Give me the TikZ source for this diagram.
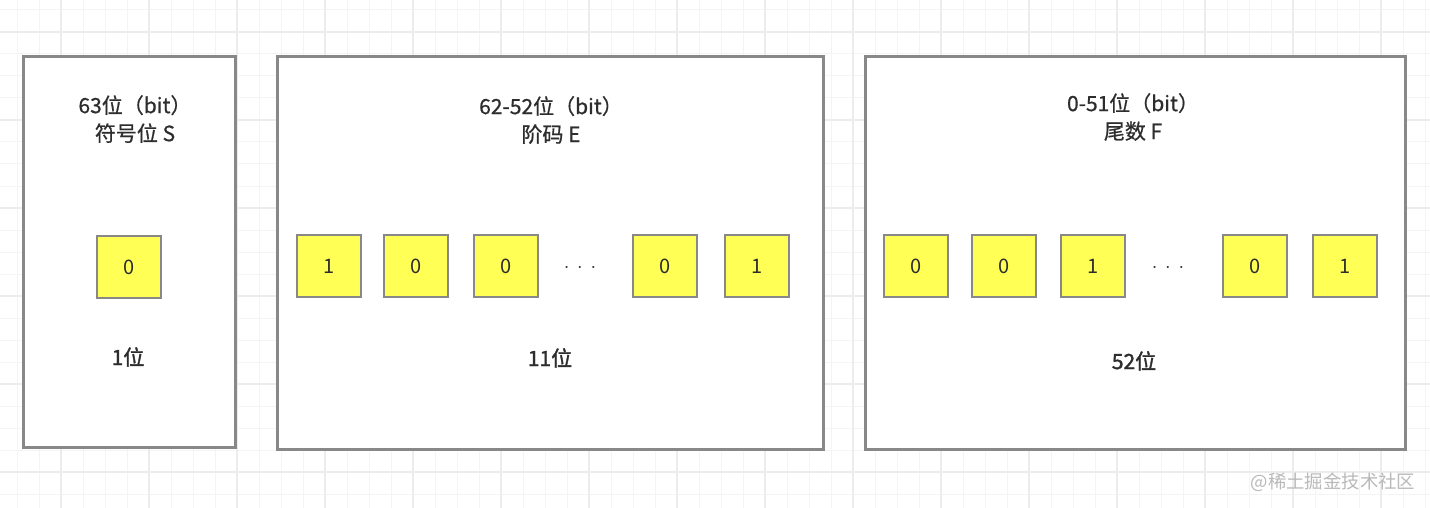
\documentclass[tikz,border=0pt]{standalone}
\usepackage{fontspec}
\setmainfont{Noto Sans CJK SC}
\newfontfamily\titlefont{Noto Sans CJK SC}[FakeBold=0.7]
\newfontfamily\lenfont{Noto Sans CJK SC}[FakeBold=1.6]
\usetikzlibrary{positioning}
\definecolor{gridminor}{RGB}{244,244,244}
\definecolor{gridmajor}{RGB}{236,236,236}
\definecolor{framegray}{RGB}{136,136,136}
\definecolor{bityellow}{RGB}{255,255,85}
\definecolor{textdark}{RGB}{45,45,45}
\definecolor{markgray}{RGB}{185,185,185}

\begin{document}
\begin{tikzpicture}[x=0.5pt, y=-0.5pt,
  panel/.style={draw=framegray, line width=1.5pt, fill=white,
    minimum height=196pt, inner sep=0pt},
  bitbox/.style={draw=framegray, line width=1.4pt, fill=bityellow,
    minimum width=32pt, minimum height=31pt, inner sep=0pt,
    font=\fontsize{10}{12}\selectfont, text=textdark},
  title/.style={align=center, font=\titlefont\fontsize{10.5}{14}\selectfont,
    text=textdark},
  sizelabel/.style={font=\lenfont\fontsize{10.5}{13}\selectfont,
    text=textdark},
  dots/.style={font=\fontsize{10}{12}\selectfont, text=textdark}]
\useasboundingbox (0,0) rectangle (1430,508);
\fill[white] (0,0) rectangle (1430,508);
% background grid
\foreach \gx in {17,39,...,1430}
  \draw[gridminor, line width=0.5pt] (\gx,0) -- (\gx,508);
\foreach \gy in {10,32,...,508}
  \draw[gridminor, line width=0.5pt] (0,\gy) -- (1430,\gy);
\foreach \gx in {61,149,...,1430}
  \draw[gridmajor, line width=0.8pt] (\gx,0) -- (\gx,508);
\foreach \gy in {32,120,...,508}
  \draw[gridmajor, line width=0.8pt] (0,\gy) -- (1430,\gy);

% the three fields
\node[panel, minimum width=106pt, minimum height=195pt] (sign) at (129,252) {};
\node[panel, minimum width=273pt] (expo) at (550,253) {};
\node[panel, minimum width=270pt] (frac) at (1135,253) {};

\node[title] (signtitle) at (135,119) {63位（bit）\\符号位 S};
\node[title] (expotitle) at (551,120) {62-52位（bit）\\阶码 E};
\node[title] (fractitle) at (1133,117) {0-51位（bit）\\尾数 F};

% bits
\node[bitbox] (s0) at (129,267) {0};

\node[bitbox] (e1) at (329,266) {1};
\node[bitbox] (e2) at (416,266) {0};
\node[bitbox] (e3) at (506,266) {0};
\node[dots] (edots) at (580,268) {$\cdot\,\cdot\,\cdot$};
\node[bitbox] (e4) at (665,266) {0};
\node[bitbox] (e5) at (757,266) {1};

\node[bitbox] (f1) at (916,266) {0};
\node[bitbox] (f2) at (1004,266) {0};
\node[bitbox] (f3) at (1093,266) {1};
\node[dots] (fdots) at (1168,268) {$\cdot\,\cdot\,\cdot$};
\node[bitbox] (f4) at (1255,266) {0};
\node[bitbox] (f5) at (1345,266) {1};

\node[sizelabel] (signlen) at (128,357) {1位};
\node[sizelabel] (expolen) at (550,358) {11位};
\node[sizelabel] (fraclen) at (1134,361) {52位};

\node[font=\fontsize{9.2}{11}\selectfont, text=markgray] (mark) at (1333,482)
  {@稀土掘金技术社区};
\end{tikzpicture}
\end{document}
